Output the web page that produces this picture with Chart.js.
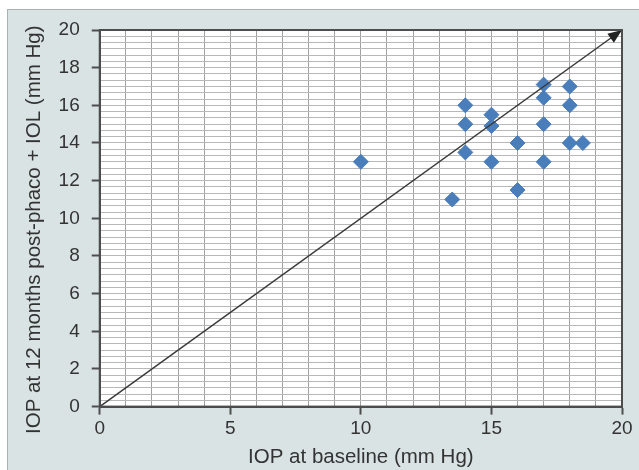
<!DOCTYPE html>
<html lang="en">
<head>
<meta charset="UTF-8">
<title>IOP baseline vs 12 months</title>
<script src="https://cdn.jsdelivr.net/npm/chart.js@4.4.1/dist/chart.umd.min.js"></script>
<style>
  html, body { margin: 0; padding: 0; background: #ffffff; }
  .frame {
    position: absolute; left: 7px; top: 9px; width: 640px; height: 470px;
    background: #dae3e3; border: 1px solid #a9b1b1;
  }
  .wrap { position: absolute; left: 0; top: 0; width: 639px; height: 470px; }
</style>
</head>
<body>
<div class="frame"></div>
<div class="wrap"><canvas id="myChart" width="639" height="470"></canvas></div>
<script>
  // measured points (baseline IOP, IOP at 12 months)
  const baselineIop = [10, 13.5, 14, 14, 14, 15, 15, 15, 16, 16, 17, 17, 17, 17, 18, 18, 18, 18.5];
  const followupIop = [13, 11, 16, 15, 13.5, 15.5, 14.9, 13, 14, 11.5, 17.1, 16.4, 15, 13, 17, 16, 14, 14];

  // reference line y = x
  const refX = [0, 20];
  const refY = [0, 20];

  const xTickLabels = [0, 5, 10, 15, 20];
  const yTickLabels = [0, 2, 4, 6, 8, 10, 12, 14, 16, 18, 20];
  const yGridStep = 1 / 3;

  const fontFamily = "'Liberation Sans', Arial, sans-serif";
  const textColor = '#333333';
  const axisColor = '#4d4d4d';

  const near = (a, b) => Math.abs(a - b) < 1e-6;
  const isXLabel = (v) => xTickLabels.some((t) => near(t, v));
  const isYLabel = (v) => yTickLabels.some((t) => near(t, v));

  const plotFrame = {
    id: 'plotFrame',
    beforeDraw(chart) {
      const { ctx, chartArea: a } = chart;
      ctx.save();
      ctx.fillStyle = '#ffffff';
      ctx.fillRect(a.left, a.top, a.right - a.left, a.bottom - a.top);
      ctx.restore();
    },
    afterDraw(chart) {
      const { ctx, chartArea: a } = chart;
      ctx.save();
      ctx.strokeStyle = axisColor;
      ctx.lineWidth = 2;
      ctx.strokeRect(a.left, a.top, a.right - a.left, a.bottom - a.top);
      ctx.restore();
    }
  };

  const arrowHead = {
    id: 'arrowHead',
    afterDatasetsDraw(chart) {
      const pts = chart.getDatasetMeta(0).data;
      if (pts.length < 2) return;
      const p1 = pts[pts.length - 2];
      const p2 = pts[pts.length - 1];
      const ang = Math.atan2(p2.y - p1.y, p2.x - p1.x);
      const len = 14, half = 5.5;
      const { ctx } = chart;
      ctx.save();
      ctx.translate(p2.x, p2.y);
      ctx.rotate(ang);
      ctx.beginPath();
      ctx.moveTo(0, 0);
      ctx.lineTo(-len, -half);
      ctx.lineTo(-len, half);
      ctx.closePath();
      ctx.fillStyle = '#222222';
      ctx.fill();
      ctx.restore();
    }
  };

  const ctx = document.getElementById('myChart').getContext('2d');
  new Chart(ctx, {
    type: 'scatter',
    data: {
      datasets: [
        {
          type: 'line',
          data: refX.map((x, i) => ({ x, y: refY[i] })),
          borderColor: '#3a3a3a',
          borderWidth: 1.5,
          pointRadius: 0,
          fill: false,
          clip: false
        },
        {
          data: baselineIop.map((x, i) => ({ x, y: followupIop[i] })),
          pointStyle: 'rectRot',
          pointRadius: 7.5,
          backgroundColor: '#4a7ebb',
          borderColor: '#4a7ebb',
          borderWidth: 1
        }
      ]
    },
    options: {
      responsive: false,
      animation: false,
      events: [],
      layout: { padding: { left: 20, right: 17, top: 30, bottom: 0 } },
      plugins: { legend: { display: false }, tooltip: { enabled: false } },
      scales: {
        x: {
          type: 'linear',
          min: 0,
          max: 20,
          ticks: {
            stepSize: 1,
            autoSkip: false,
            maxRotation: 0,
            padding: 3,
            color: textColor,
            font: { family: fontFamily, size: 19 },
            callback: (v) => (isXLabel(v) ? String(Math.round(v)) : '')
          },
          grid: {
            color: '#a0a0a0',
            lineWidth: 1,
            tickLength: 8,
            tickColor: (c) => (c.tick && isXLabel(c.tick.value) ? axisColor : 'rgba(0,0,0,0)'),
            tickWidth: 2
          },
          border: { color: axisColor, width: 2 },
          title: {
            display: true,
            text: 'IOP at baseline (mm Hg)',
            color: textColor,
            font: { family: fontFamily, size: 20.5 },
            padding: { top: 2, bottom: 0 }
          }
        },
        y: {
          type: 'linear',
          min: 0,
          max: 20,
          afterBuildTicks: (s) => {
            const n = Math.round(20 / yGridStep);
            s.ticks = Array.from({ length: n + 1 }, (_, i) => ({ value: i * yGridStep }));
          },
          ticks: {
            autoSkip: false,
            padding: 12,
            color: textColor,
            font: { family: fontFamily, size: 19 },
            callback: (v) => (isYLabel(v) ? String(Math.round(v)) : '')
          },
          grid: {
            color: '#b8b8b8',
            lineWidth: 1,
            tickLength: 8,
            tickColor: (c) => (c.tick && isYLabel(c.tick.value) ? axisColor : 'rgba(0,0,0,0)'),
            tickWidth: 2
          },
          border: { color: axisColor, width: 2 },
          title: {
            display: true,
            // trailing spaces nudge the rotated title down like the original
            text: 'IOP at 12 months post-phaco + IOL (mm Hg)\u00a0\u00a0\u00a0\u00a0',
            color: textColor,
            font: { family: fontFamily, size: 20.5 },
            padding: { top: 2, bottom: 0 }
          }
        }
      }
    },
    plugins: [plotFrame, arrowHead]
  });
</script>
</body>
</html>
